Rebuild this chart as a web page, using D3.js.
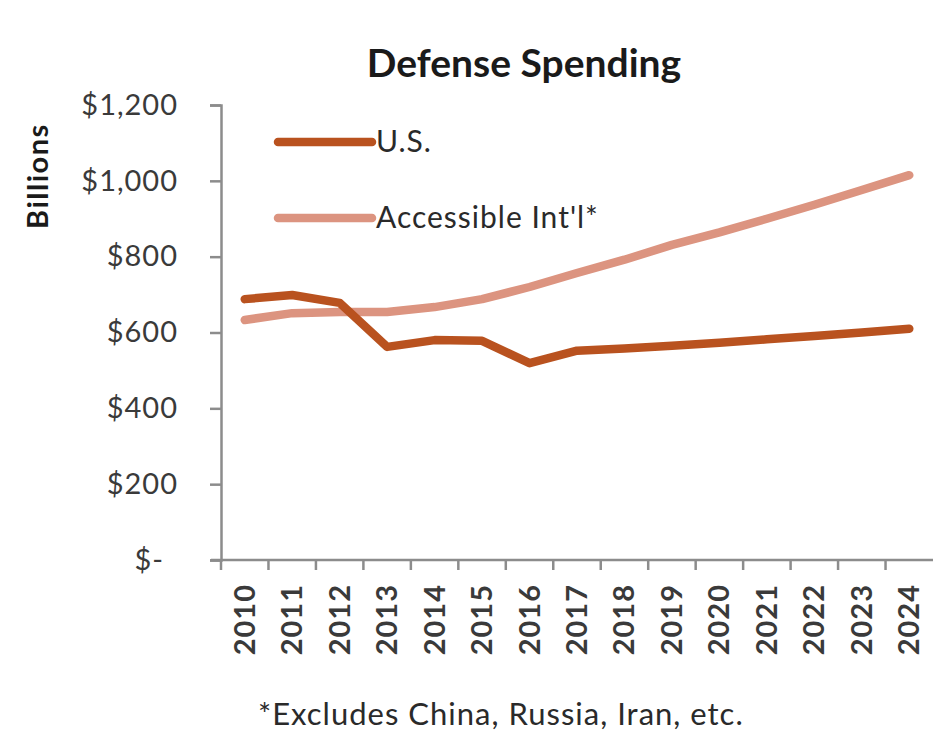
<!DOCTYPE html>
<meta charset="utf-8">
<script src="https://d3js.org/d3.v7.min.js"></script>
<style>
  body { margin: 0; background: #fff; }
  text { font-family: Lato, "Open Sans", sans-serif; }
</style>
<div id="chart"></div>
<script>

// data (billions of dollars)
var years = ["2010","2011","2012","2013","2014","2015","2016","2017","2018","2019","2020","2021","2022","2023","2024"]
var usSpending = [688, 699, 678, 562, 580, 578, 519, 552, 558, 565, 573, 582, 591, 600, 610]
var intlSpending = [633, 651, 654, 654, 667, 688, 720, 757, 792, 831, 864, 900, 937, 976, 1015]
var yTicks = [0, 200, 400, 600, 800, 1000, 1200]
var seriesNames = ["U.S.", "Accessible Int'l*"]
var seriesColors = ["#b9521f", "#dc9480"]

var width = 935
var height = 745

var svg = d3.select("#chart")
  .append("svg")
    .attr("width", width)
    .attr("height", height)

var x = d3.scaleBand()
  .domain(years)
  .range([221, 933])

var y = d3.scaleLinear()
  .domain([0, 1200])
  .range([560, 105])

// title
svg.append("text")
  .attr("x", 524)
  .attr("y", 77)
  .attr("text-anchor", "middle")
  .style("font-size", "39px")
  .style("font-weight", "bold")
  .style("fill", "#1a1a1a")
  .text("Defense Spending")

// y axis
var yAxis = svg.append("g")
  .attr("transform", "translate(221,0)")
  .call(d3.axisLeft(y)
    .tickValues(yTicks)
    .tickSize(11)
    .tickPadding(32)
    .tickFormat(function(d){ return d === 0 ? "$-" : "$" + d3.format(",")(d) }))

yAxis.select(".domain").attr("stroke", "#8c8c8c").attr("stroke-width", 2.5)
yAxis.selectAll(".tick line").attr("stroke", "#8c8c8c").attr("stroke-width", 2.5)
yAxis.selectAll(".tick text")
  .style("font-size", "29px")
  .style("letter-spacing", "1px")
  .style("fill", "#3a3a3a")
  .attr("dx", function(d){ return d === 0 ? "-14" : "0" })

// x axis, ticks between categories
var xAxis = svg.append("g")
  .attr("transform", "translate(0,560)")

xAxis.append("line")
  .attr("x1", x.range()[0] - 10)
  .attr("x2", x.range()[1])
  .attr("stroke", "#8c8c8c")
  .attr("stroke-width", 2.5)

xAxis.selectAll(".xtick")
  .data(years)
  .enter()
  .append("line")
    .attr("x1", function(d){ return x(d) })
    .attr("x2", function(d){ return x(d) })
    .attr("y1", 0)
    .attr("y2", 10)
    .attr("stroke", "#8c8c8c")
    .attr("stroke-width", 2.5)

xAxis.selectAll(".xlabel")
  .data(years)
  .enter()
  .append("text")
    .attr("transform", function(d){ return "translate(" + (x(d) + x.bandwidth() / 2 + 10) + ",24) rotate(-90)" })
    .attr("text-anchor", "end")
    .style("font-size", "29px")
    .style("letter-spacing", "1px")
    .style("font-weight", "bold")
    .style("fill", "#3a3a3a")
    .text(function(d){ return d })

// y axis title
svg.append("text")
  .attr("transform", "translate(48,176) rotate(-90)")
  .attr("text-anchor", "middle")
  .style("font-size", "29px")
  .style("letter-spacing", "1.5px")
  .style("font-weight", "bold")
  .style("fill", "#1a1a1a")
  .text("Billions")

// lines
var line = d3.line()
  .x(function(d, i){ return x(years[i]) + x.bandwidth() / 2 })
  .y(function(d){ return y(d) })

var allSeries = [usSpending, intlSpending]

svg.selectAll(".series")
  .data([1, 0])
  .enter()
  .append("path")
    .attr("d", function(k){ return line(allSeries[k]) })
    .attr("fill", "none")
    .attr("stroke", function(k){ return seriesColors[k] })
    .attr("stroke-width", 8.5)
    .attr("stroke-linejoin", "round")
    .attr("stroke-linecap", "round")

// legend
var legend = svg.selectAll(".legend")
  .data(seriesNames)
  .enter()
  .append("g")
    .attr("transform", function(d, i){ return "translate(278," + (142 + i * 76) + ")" })

legend.append("line")
  .attr("x1", 0)
  .attr("x2", 94)
  .attr("stroke", function(d, i){ return seriesColors[i] })
  .attr("stroke-width", 8.5)
  .attr("stroke-linecap", "round")

legend.append("text")
  .attr("x", 98)
  .attr("y", 10)
  .style("font-size", "30px")
  .style("letter-spacing", "1px")
  .style("fill", "#2a2a2a")
  .text(function(d){ return d })

// footnote
svg.append("text")
  .attr("x", 258)
  .attr("y", 725)
  .style("font-size", "31px")
  .style("letter-spacing", "1px")
  .style("fill", "#2a2a2a")
  .text("*Excludes China, Russia, Iran, etc.")

</script>
